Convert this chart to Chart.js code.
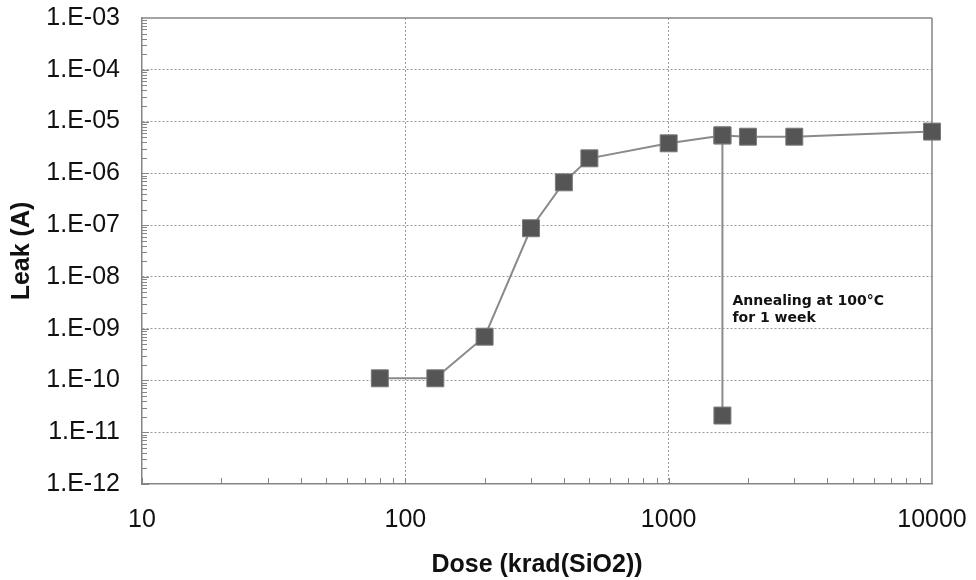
<!DOCTYPE html>
<html>
<head>
<meta charset="utf-8">
<script src="https://cdn.jsdelivr.net/npm/chart.js@4/dist/chart.umd.min.js"></script>
<style>
html,body{margin:0;padding:0;background:#fff;}
#wrap{width:976px;height:580px;}
</style>
</head>
<body>
<div id="wrap"><canvas id="c" width="976" height="580"></canvas></div>
<script>
// ---- data ----
const doseValues = [80, 130, 200, 300, 400, 500, 1000, 1600, 2000, 3000, 10000];
const leakValues = [1.1e-10, 1.1e-10, 7.0e-10, 8.7e-8, 6.7e-7, 1.95e-6, 3.8e-6, 5.4e-6, 5.1e-6, 5.1e-6, 6.4e-6];
const annealDose = [1600, 1600];
const annealLeak = [5.4e-6, 2.1e-11];
const xTickValues = [10, 100, 1000, 10000];
const yTickExponents = [-12, -11, -10, -9, -8, -7, -6, -5, -4, -3];
const annotationLines = ['Annealing at 100\u00B0C', 'for 1 week'];
const xTitle = 'Dose (krad(SiO2))';
const yTitle = 'Leak (A)';

const yTickValues = yTickExponents.map(e => Math.pow(10, e));
const mainPoints = doseValues.map((d, i) => ({x: d, y: leakValues[i]}));
const annealPoints = annealDose.map((d, i) => ({x: d, y: annealLeak[i]}));

function fmtExp(v) {
  const e = Math.round(Math.log10(v));
  const s = e < 0 ? '-' : '+';
  const a = Math.abs(e);
  return '1.E' + s + (a < 10 ? '0' + a : '' + a);
}

const GRID = '#9a9a9a';
const AXIS = '#858585';

const decorPlugin = {
  id: 'decor',
  beforeDatasetsDraw(chart) {
    const ctx = chart.ctx;
    const a = chart.chartArea;
    const xs = chart.scales.x, ys = chart.scales.y;
    ctx.save();
    ctx.strokeStyle = AXIS;
    ctx.lineWidth = 1.5;
    ctx.beginPath();
    ctx.moveTo(a.left, a.top); ctx.lineTo(a.right, a.top);
    ctx.moveTo(a.right, a.top); ctx.lineTo(a.right, a.bottom);
    ctx.stroke();
    // minor ticks (inside)
    ctx.lineWidth = 1;
    ctx.strokeStyle = AXIS;
    ctx.beginPath();
    for (let e = 1; e < 4; e++) {
      for (let m = 1; m <= 9; m++) {
        const v = m * Math.pow(10, e);
        const px = Math.round(xs.getPixelForValue(v)) + 0.5;
        ctx.moveTo(px, a.bottom); ctx.lineTo(px, a.bottom - 6);
      }
    }
    for (let e = -12; e < -3; e++) {
      for (let m = 1; m <= 9; m++) {
        const v = m * Math.pow(10, e);
        const py = Math.round(ys.getPixelForValue(v)) + 0.5;
        ctx.moveTo(a.left, py); ctx.lineTo(a.left + (m === 1 ? 7 : 5), py);
      }
    }
    ctx.stroke();
    ctx.restore();
  },
  afterDatasetsDraw(chart) {
    const ctx = chart.ctx;
    const xs = chart.scales.x, ys = chart.scales.y;
    const x0 = xs.getPixelForValue(annealDose[0]) + 10;
    const y0 = ys.getPixelForValue(1e-9) - 24;
    ctx.save();
    ctx.fillStyle = '#111';
    ctx.font = 'bold 14px "DejaVu Sans"';
    ctx.textAlign = 'left';
    ctx.textBaseline = 'alphabetic';
    annotationLines.forEach((t, i) => ctx.fillText(t, x0, y0 + i * 17));
    ctx.restore();
  }
};

new Chart(document.getElementById('c'), {
  type: 'scatter',
  data: {
    datasets: [
      {
        data: mainPoints,
        showLine: true,
        borderColor: '#8a8a8a',
        borderWidth: 2,
        pointStyle: 'rect',
        pointRadius: 12,
        pointBackgroundColor: '#555555',
        pointBorderColor: '#7a7a7a',
        pointBorderWidth: 1,
        clip: false,
        order: 1
      },
      {
        data: annealPoints,
        showLine: true,
        borderColor: '#8a8a8a',
        borderWidth: 2,
        pointStyle: 'rect',
        pointRadius: 12,
        pointBackgroundColor: '#555555',
        pointBorderColor: '#7a7a7a',
        pointBorderWidth: 1,
        clip: false,
        order: 2
      }
    ]
  },
  options: {
    responsive: false,
    animation: false,
    events: [],
    layout: {padding: {left: 0, right: 44, top: 18, bottom: 0}},
    plugins: {legend: {display: false}, tooltip: {enabled: false}},
    scales: {
      x: {
        type: 'logarithmic',
        min: 10, max: 10000,
        afterBuildTicks(s) { s.ticks = xTickValues.map(v => ({value: v, major: true})); },
        afterFit(s) { s.height = 96; s.paddingLeft = 0; s.paddingRight = 0; },
        ticks: {
          callback: v => String(v),
          color: '#111',
          font: {family: '"Liberation Sans", Arial, sans-serif', size: 25},
          padding: 21,
          maxRotation: 0, autoSkip: false
        },
        grid: {
          drawTicks: false,
          color: c => (c.index === 0 || c.index === xTickValues.length - 1) ? 'rgba(0,0,0,0)' : GRID,
          lineWidth: 1
        },
        border: {display: true, color: AXIS, width: 1.5, dash: [2, 2]},
        title: {
          display: true, text: xTitle, color: '#111',
          font: {family: '"Liberation Sans", Arial, sans-serif', size: 25, weight: 'bold'},
          padding: {top: 10, bottom: 0}
        }
      },
      y: {
        type: 'logarithmic',
        min: 1e-12, max: 1e-3,
        afterBuildTicks(s) { s.ticks = yTickValues.map(v => ({value: v, major: true})); },
        afterFit(s) { s.width = 142; s.paddingTop = 0; s.paddingBottom = 0; },
        ticks: {
          callback: v => fmtExp(v),
          color: '#111',
          font: {family: '"Liberation Sans", Arial, sans-serif', size: 25},
          padding: 22,
          autoSkip: false
        },
        grid: {
          drawTicks: false,
          color: c => (c.index === 0 || c.index === yTickValues.length - 1) ? 'rgba(0,0,0,0)' : GRID,
          lineWidth: 1
        },
        border: {display: true, color: AXIS, width: 1.5, dash: [2, 2]},
        title: {
          display: true, text: yTitle, color: '#111',
          font: {family: '"Liberation Sans", Arial, sans-serif', size: 25, weight: 'bold'},
          padding: {top: 7, bottom: 0}
        }
      }
    }
  },
  plugins: [decorPlugin]
});
</script>
</body>
</html>
